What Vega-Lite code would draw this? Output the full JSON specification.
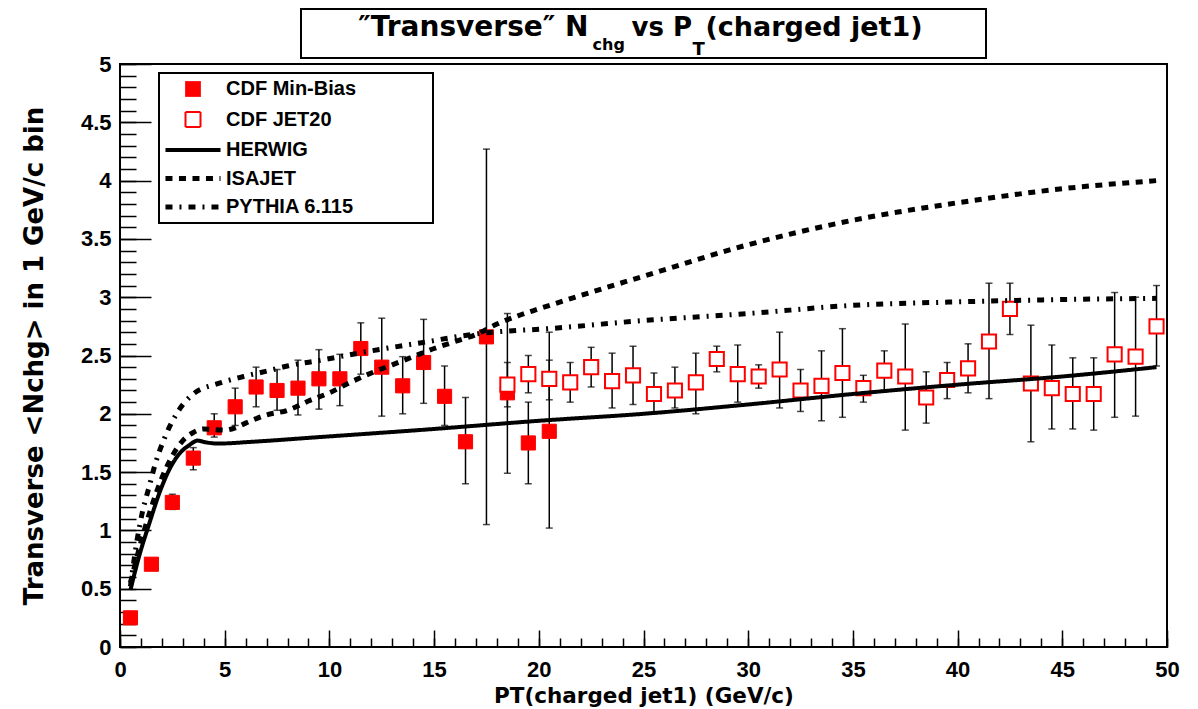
{
  "$schema": "https://vega.github.io/schema/vega-lite/v6.json",
  "background": "white",
  "padding": {"left": 20, "top": 8, "right": 4, "bottom": 0},
  "datasets": {
    "pts": [
      {"pt": 0.5, "n": 0.25, "lo": 0.25, "hi": 0.25, "series": "CDF Min-Bias"},
      {"pt": 1.5, "n": 0.71, "lo": 0.71, "hi": 0.71, "series": "CDF Min-Bias"},
      {"pt": 2.5, "n": 1.24, "lo": 1.18, "hi": 1.31, "series": "CDF Min-Bias"},
      {"pt": 3.5, "n": 1.62, "lo": 1.52, "hi": 1.71, "series": "CDF Min-Bias"},
      {"pt": 4.5, "n": 1.88, "lo": 1.80, "hi": 2.00, "series": "CDF Min-Bias"},
      {"pt": 5.5, "n": 2.06, "lo": 1.90, "hi": 2.22, "series": "CDF Min-Bias"},
      {"pt": 6.5, "n": 2.23, "lo": 2.06, "hi": 2.40, "series": "CDF Min-Bias"},
      {"pt": 7.5, "n": 2.20, "lo": 2.03, "hi": 2.38, "series": "CDF Min-Bias"},
      {"pt": 8.5, "n": 2.22, "lo": 1.99, "hi": 2.46, "series": "CDF Min-Bias"},
      {"pt": 9.5, "n": 2.30, "lo": 2.04, "hi": 2.55, "series": "CDF Min-Bias"},
      {"pt": 10.5, "n": 2.30, "lo": 2.07, "hi": 2.51, "series": "CDF Min-Bias"},
      {"pt": 11.5, "n": 2.56, "lo": 2.34, "hi": 2.78, "series": "CDF Min-Bias"},
      {"pt": 12.5, "n": 2.40, "lo": 1.98, "hi": 2.82, "series": "CDF Min-Bias"},
      {"pt": 13.5, "n": 2.24, "lo": 2.00, "hi": 2.49, "series": "CDF Min-Bias"},
      {"pt": 14.5, "n": 2.44, "lo": 2.09, "hi": 2.81, "series": "CDF Min-Bias"},
      {"pt": 15.5, "n": 2.15, "lo": 1.90, "hi": 2.41, "series": "CDF Min-Bias"},
      {"pt": 16.5, "n": 1.76, "lo": 1.40, "hi": 2.14, "series": "CDF Min-Bias"},
      {"pt": 17.5, "n": 2.66, "lo": 1.05, "hi": 4.27, "series": "CDF Min-Bias"},
      {"pt": 18.5, "n": 2.18, "lo": 1.49, "hi": 2.86, "series": "CDF Min-Bias"},
      {"pt": 19.5, "n": 1.75, "lo": 1.40, "hi": 2.10, "series": "CDF Min-Bias"},
      {"pt": 20.5, "n": 1.85, "lo": 1.02, "hi": 2.70, "series": "CDF Min-Bias"},
      {"pt": 18.5, "n": 2.25, "lo": 2.06, "hi": 2.44, "series": "CDF JET20"},
      {"pt": 19.5, "n": 2.34, "lo": 2.18, "hi": 2.50, "series": "CDF JET20"},
      {"pt": 20.5, "n": 2.30, "lo": 2.12, "hi": 2.46, "series": "CDF JET20"},
      {"pt": 21.5, "n": 2.27, "lo": 2.10, "hi": 2.44, "series": "CDF JET20"},
      {"pt": 22.5, "n": 2.40, "lo": 2.23, "hi": 2.57, "series": "CDF JET20"},
      {"pt": 23.5, "n": 2.28, "lo": 2.05, "hi": 2.52, "series": "CDF JET20"},
      {"pt": 24.5, "n": 2.33, "lo": 2.08, "hi": 2.58, "series": "CDF JET20"},
      {"pt": 25.5, "n": 2.17, "lo": 2.00, "hi": 2.35, "series": "CDF JET20"},
      {"pt": 26.5, "n": 2.20, "lo": 2.05, "hi": 2.40, "series": "CDF JET20"},
      {"pt": 27.5, "n": 2.27, "lo": 2.00, "hi": 2.52, "series": "CDF JET20"},
      {"pt": 28.5, "n": 2.47, "lo": 2.36, "hi": 2.58, "series": "CDF JET20"},
      {"pt": 29.5, "n": 2.34, "lo": 2.10, "hi": 2.59, "series": "CDF JET20"},
      {"pt": 30.5, "n": 2.32, "lo": 2.22, "hi": 2.42, "series": "CDF JET20"},
      {"pt": 31.5, "n": 2.38, "lo": 2.05, "hi": 2.70, "series": "CDF JET20"},
      {"pt": 32.5, "n": 2.20, "lo": 2.02, "hi": 2.38, "series": "CDF JET20"},
      {"pt": 33.5, "n": 2.24, "lo": 1.94, "hi": 2.54, "series": "CDF JET20"},
      {"pt": 34.5, "n": 2.35, "lo": 1.97, "hi": 2.73, "series": "CDF JET20"},
      {"pt": 35.5, "n": 2.22, "lo": 2.10, "hi": 2.33, "series": "CDF JET20"},
      {"pt": 36.5, "n": 2.37, "lo": 2.20, "hi": 2.54, "series": "CDF JET20"},
      {"pt": 37.5, "n": 2.32, "lo": 1.86, "hi": 2.77, "series": "CDF JET20"},
      {"pt": 38.5, "n": 2.14, "lo": 1.92, "hi": 2.36, "series": "CDF JET20"},
      {"pt": 39.5, "n": 2.29, "lo": 2.13, "hi": 2.44, "series": "CDF JET20"},
      {"pt": 40.5, "n": 2.39, "lo": 2.18, "hi": 2.60, "series": "CDF JET20"},
      {"pt": 41.5, "n": 2.62, "lo": 2.13, "hi": 3.12, "series": "CDF JET20"},
      {"pt": 42.5, "n": 2.90, "lo": 2.68, "hi": 3.12, "series": "CDF JET20"},
      {"pt": 43.5, "n": 2.26, "lo": 1.76, "hi": 2.76, "series": "CDF JET20"},
      {"pt": 44.5, "n": 2.22, "lo": 1.87, "hi": 2.59, "series": "CDF JET20"},
      {"pt": 45.5, "n": 2.17, "lo": 1.87, "hi": 2.48, "series": "CDF JET20"},
      {"pt": 46.5, "n": 2.17, "lo": 1.86, "hi": 2.48, "series": "CDF JET20"},
      {"pt": 47.5, "n": 2.51, "lo": 1.97, "hi": 3.04, "series": "CDF JET20"},
      {"pt": 48.5, "n": 2.49, "lo": 1.98, "hi": 3.00, "series": "CDF JET20"},
      {"pt": 49.5, "n": 2.75, "lo": 2.41, "hi": 3.10, "series": "CDF JET20"}
    ],
    "curves": [
      {"pt": 0.5, "val": 0.49, "series": "HERWIG"},
      {"pt": 0.9, "val": 0.77, "series": "HERWIG"},
      {"pt": 1.4, "val": 1.06, "series": "HERWIG"},
      {"pt": 1.9, "val": 1.33, "series": "HERWIG"},
      {"pt": 2.35, "val": 1.52, "series": "HERWIG"},
      {"pt": 2.8, "val": 1.65, "series": "HERWIG"},
      {"pt": 3.3, "val": 1.73, "series": "HERWIG"},
      {"pt": 3.7, "val": 1.77, "series": "HERWIG"},
      {"pt": 4.1, "val": 1.755, "series": "HERWIG"},
      {"pt": 4.7, "val": 1.745, "series": "HERWIG"},
      {"pt": 6.3, "val": 1.76, "series": "HERWIG"},
      {"pt": 9.5, "val": 1.80, "series": "HERWIG"},
      {"pt": 15, "val": 1.87, "series": "HERWIG"},
      {"pt": 20, "val": 1.94, "series": "HERWIG"},
      {"pt": 25, "val": 2.00, "series": "HERWIG"},
      {"pt": 30, "val": 2.08, "series": "HERWIG"},
      {"pt": 35, "val": 2.17, "series": "HERWIG"},
      {"pt": 40, "val": 2.25, "series": "HERWIG"},
      {"pt": 45, "val": 2.32, "series": "HERWIG"},
      {"pt": 49.5, "val": 2.40, "series": "HERWIG"},
      {"pt": 0.5, "val": 0.55, "series": "ISAJET"},
      {"pt": 1, "val": 0.9, "series": "ISAJET"},
      {"pt": 1.5, "val": 1.2, "series": "ISAJET"},
      {"pt": 2, "val": 1.45, "series": "ISAJET"},
      {"pt": 2.5, "val": 1.64, "series": "ISAJET"},
      {"pt": 3, "val": 1.77, "series": "ISAJET"},
      {"pt": 3.5, "val": 1.84, "series": "ISAJET"},
      {"pt": 4, "val": 1.87, "series": "ISAJET"},
      {"pt": 5, "val": 1.86, "series": "ISAJET"},
      {"pt": 5.5, "val": 1.88, "series": "ISAJET"},
      {"pt": 6, "val": 1.92, "series": "ISAJET"},
      {"pt": 7, "val": 1.99, "series": "ISAJET"},
      {"pt": 8, "val": 2.03, "series": "ISAJET"},
      {"pt": 9, "val": 2.11, "series": "ISAJET"},
      {"pt": 10, "val": 2.18, "series": "ISAJET"},
      {"pt": 11, "val": 2.27, "series": "ISAJET"},
      {"pt": 12, "val": 2.35, "series": "ISAJET"},
      {"pt": 13, "val": 2.42, "series": "ISAJET"},
      {"pt": 14, "val": 2.49, "series": "ISAJET"},
      {"pt": 15, "val": 2.56, "series": "ISAJET"},
      {"pt": 16, "val": 2.62, "series": "ISAJET"},
      {"pt": 17, "val": 2.68, "series": "ISAJET"},
      {"pt": 18, "val": 2.77, "series": "ISAJET"},
      {"pt": 19, "val": 2.84, "series": "ISAJET"},
      {"pt": 20, "val": 2.90, "series": "ISAJET"},
      {"pt": 25, "val": 3.18, "series": "ISAJET"},
      {"pt": 30, "val": 3.45, "series": "ISAJET"},
      {"pt": 35, "val": 3.66, "series": "ISAJET"},
      {"pt": 40, "val": 3.81, "series": "ISAJET"},
      {"pt": 45, "val": 3.93, "series": "ISAJET"},
      {"pt": 49.5, "val": 4.0, "series": "ISAJET"},
      {"pt": 0.5, "val": 0.52, "series": "PYTHIA 6.115"},
      {"pt": 0.8, "val": 0.9, "series": "PYTHIA 6.115"},
      {"pt": 1.05, "val": 1.14, "series": "PYTHIA 6.115"},
      {"pt": 1.4, "val": 1.38, "series": "PYTHIA 6.115"},
      {"pt": 1.7, "val": 1.58, "series": "PYTHIA 6.115"},
      {"pt": 2.1, "val": 1.78, "series": "PYTHIA 6.115"},
      {"pt": 2.7, "val": 2.0, "series": "PYTHIA 6.115"},
      {"pt": 3.5, "val": 2.17, "series": "PYTHIA 6.115"},
      {"pt": 4.7, "val": 2.26, "series": "PYTHIA 6.115"},
      {"pt": 5.9, "val": 2.32, "series": "PYTHIA 6.115"},
      {"pt": 7.1, "val": 2.37, "series": "PYTHIA 6.115"},
      {"pt": 8, "val": 2.41, "series": "PYTHIA 6.115"},
      {"pt": 9.6, "val": 2.46, "series": "PYTHIA 6.115"},
      {"pt": 12, "val": 2.54, "series": "PYTHIA 6.115"},
      {"pt": 14.4, "val": 2.61, "series": "PYTHIA 6.115"},
      {"pt": 16.8, "val": 2.68, "series": "PYTHIA 6.115"},
      {"pt": 18.5, "val": 2.71, "series": "PYTHIA 6.115"},
      {"pt": 20, "val": 2.725, "series": "PYTHIA 6.115"},
      {"pt": 25, "val": 2.80, "series": "PYTHIA 6.115"},
      {"pt": 30, "val": 2.86, "series": "PYTHIA 6.115"},
      {"pt": 35, "val": 2.93, "series": "PYTHIA 6.115"},
      {"pt": 40, "val": 2.96, "series": "PYTHIA 6.115"},
      {"pt": 45, "val": 2.98, "series": "PYTHIA 6.115"},
      {"pt": 49.5, "val": 2.99, "series": "PYTHIA 6.115"}
    ]
  },
  "vconcat": [
    {
      "width": 685,
      "height": 49,
      "view": {"stroke": "black", "strokeWidth": 2, "fill": "white"},
      "layer": [
        {
          "data": {"values": [{"t": "″Transverse″ N"}]},
          "mark": {"type": "text", "align": "right", "baseline": "alphabetic", "font": "DejaVu Sans", "fontWeight": "bold", "fontSize": 28, "fill": "black", "dx": -55, "dy": 2.5},
          "encoding": {"text": {"field": "t"}}
        },
        {
          "data": {"values": [{"t": "chg"}]},
          "mark": {"type": "text", "align": "left", "baseline": "alphabetic", "font": "DejaVu Sans", "fontWeight": "bold", "fontSize": 16, "fill": "black", "dx": -51, "dy": 16.5},
          "encoding": {"text": {"field": "t"}}
        },
        {
          "data": {"values": [{"t": "vs P"}]},
          "mark": {"type": "text", "align": "left", "baseline": "alphabetic", "font": "DejaVu Sans", "fontWeight": "bold", "fontSize": 26, "fill": "black", "dx": -12, "dy": 2.5},
          "encoding": {"text": {"field": "t"}}
        },
        {
          "data": {"values": [{"t": "T"}]},
          "mark": {"type": "text", "align": "left", "baseline": "alphabetic", "font": "DejaVu Sans", "fontWeight": "bold", "fontSize": 18, "fill": "black", "dx": 49, "dy": 21},
          "encoding": {"text": {"field": "t"}}
        },
        {
          "data": {"values": [{"t": "(charged jet1)"}]},
          "mark": {"type": "text", "align": "left", "baseline": "alphabetic", "font": "DejaVu Sans", "fontWeight": "bold", "fontSize": 27, "fill": "black", "dx": 62, "dy": 2.5},
          "encoding": {"text": {"field": "t"}}
        }
      ]
    },
    {
      "width": 1047,
      "height": 583,
      "layer": [
        {
          "data": {"name": "pts"},
          "mark": {"type": "errorbar", "ticks": true, "thickness": 1.5, "size": 7, "color": "black"},
          "encoding": {
            "x": {"field": "pt", "type": "quantitative", "scale": {"domain": [0, 50], "nice": false}, "axis": null},
            "y": {"field": "lo", "type": "quantitative", "scale": {"domain": [0, 5], "nice": false, "zero": false}, "axis": null},
            "y2": {"field": "hi"}
          }
        },
        {
          "data": {"name": "pts"},
          "mark": {"type": "point", "filled": true, "opacity": 1, "size": 200},
          "encoding": {
            "x": {"field": "pt", "type": "quantitative", "scale": {"domain": [0, 50], "nice": false},
              "axis": {"orient": "bottom", "values": [0, 5, 10, 15, 20, 25, 30, 35, 40, 45, 50], "format": "~g", "tickSize": -17, "tickWidth": 1.5, "labelPadding": 29, "labelFontSize": 22, "labelFlush": false, "labelOverlap": false, "title": "PT(charged jet1) (GeV/c)", "titleFont": "DejaVu Sans", "titleFontSize": 21.5, "titlePadding": 5}},
            "y": {"field": "n", "type": "quantitative", "scale": {"domain": [0, 5], "nice": false, "zero": false},
              "axis": {"orient": "left", "values": [0, 0.5, 1, 1.5, 2, 2.5, 3, 3.5, 4, 4.5, 5], "format": "~g", "tickSize": -31, "tickWidth": 1.5, "labelPadding": 40, "labelFontSize": 22, "labelFlush": false, "labelOverlap": false, "title": "Transverse <Nchg> in 1 GeV/c bin", "titleFont": "DejaVu Sans", "titleFontSize": 26, "titlePadding": 33}},
            "shape": {"field": "series", "type": "nominal", "title": null,
              "scale": {"domain": ["CDF Min-Bias", "CDF JET20", "HERWIG", "ISAJET", "PYTHIA 6.115"], "range": ["square", "square", "M-3.67,0H3.67", "M-3.67,0H3.67", "M-3.67,0H3.67"]},
              "legend": {"title": "\u00a0", "titleOrient": "right", "titlePadding": 71}},
            "fill": {"field": "series", "type": "nominal", "title": null,
              "scale": {"domain": ["CDF Min-Bias", "CDF JET20", "HERWIG", "ISAJET", "PYTHIA 6.115"], "range": ["#ff0000", "#ffffff", "#000000", "#000000", "#000000"]},
              "legend": {"title": "\u00a0", "titleOrient": "right", "titlePadding": 71}},
            "stroke": {"field": "series", "type": "nominal", "title": null,
              "scale": {"domain": ["CDF Min-Bias", "CDF JET20", "HERWIG", "ISAJET", "PYTHIA 6.115"], "range": ["#ff0000", "#ff0000", "#000000", "#000000", "#000000"]},
              "legend": {"title": "\u00a0", "titleOrient": "right", "titlePadding": 71}},
            "strokeWidth": {"field": "series", "type": "nominal", "title": null,
              "scale": {"type": "ordinal", "domain": ["CDF Min-Bias", "CDF JET20", "HERWIG", "ISAJET", "PYTHIA 6.115"], "range": [1, 2, 4, 5, 5]},
              "legend": {"title": "\u00a0", "titleOrient": "right", "titlePadding": 71}}
          }
        },
        {
          "data": {"name": "curves"},
          "mark": {"type": "line", "interpolate": "monotone", "strokeCap": "butt"},
          "encoding": {
            "x": {"field": "pt", "type": "quantitative", "scale": {"domain": [0, 50], "nice": false},
              "axis": {"orient": "bottom", "values": [0, 1, 2, 3, 4, 5, 6, 7, 8, 9, 10, 11, 12, 13, 14, 15, 16, 17, 18, 19, 20, 21, 22, 23, 24, 25, 26, 27, 28, 29, 30, 31, 32, 33, 34, 35, 36, 37, 38, 39, 40, 41, 42, 43, 44, 45, 46, 47, 48, 49, 50], "tickSize": -9, "tickWidth": 1.5, "labels": false, "title": null}},
            "y": {"field": "val", "type": "quantitative", "scale": {"domain": [0, 5], "nice": false, "zero": false},
              "axis": {"orient": "left", "values": [0, 0.1, 0.2, 0.3, 0.4, 0.5, 0.6, 0.7, 0.8, 0.9, 1, 1.1, 1.2, 1.3, 1.4, 1.5, 1.6, 1.7, 1.8, 1.9, 2, 2.1, 2.2, 2.3, 2.4, 2.5, 2.6, 2.7, 2.8, 2.9, 3, 3.1, 3.2, 3.3, 3.4, 3.5, 3.6, 3.7, 3.8, 3.9, 4, 4.1, 4.2, 4.3, 4.4, 4.5, 4.6, 4.7, 4.8, 4.9, 5], "tickSize": -16, "tickWidth": 1.5, "labels": false, "title": null}},
            "stroke": {"field": "series", "type": "nominal", "title": null,
              "scale": {"domain": ["CDF Min-Bias", "CDF JET20", "HERWIG", "ISAJET", "PYTHIA 6.115"], "range": ["#ff0000", "#ff0000", "#000000", "#000000", "#000000"]},
              "legend": {"title": "\u00a0", "titleOrient": "right", "titlePadding": 71}},
            "strokeWidth": {"field": "series", "type": "nominal", "title": null,
              "scale": {"type": "ordinal", "domain": ["CDF Min-Bias", "CDF JET20", "HERWIG", "ISAJET", "PYTHIA 6.115"], "range": [1, 2, 4, 5, 5]},
              "legend": {"title": "\u00a0", "titleOrient": "right", "titlePadding": 71}},
            "strokeDash": {"field": "series", "type": "nominal", "title": null,
              "scale": {"domain": ["CDF Min-Bias", "CDF JET20", "HERWIG", "ISAJET", "PYTHIA 6.115"], "range": [[1, 0], [1, 0], [1, 0], [7, 6.5], [7, 7, 2, 7]]},
              "legend": {"title": "\u00a0", "titleOrient": "right", "titlePadding": 71}}
          }
        }
      ],
      "resolve": {"axis": {"x": "independent", "y": "independent"}}
    }
  ],
  "spacing": 6,
  "bounds": "flush",
  "center": true,
  "config": {
    "view": {"stroke": "black", "strokeWidth": 2},
    "font": "Liberation Sans",
    "axis": {"labelFont": "Liberation Sans", "labelFontWeight": "bold", "labelColor": "black", "titleFont": "DejaVu Sans", "titleFontWeight": "bold", "titleColor": "black", "tickColor": "black", "grid": false, "domain": false},
    "legend": {"orient": "none", "legendX": 39, "legendY": 64, "strokeColor": "black", "strokeWidth": 2, "fillColor": "white", "padding": 6, "labelFont": "Liberation Sans", "labelFontWeight": "bold", "labelFontSize": 20, "labelColor": "black", "labelOffset": 23, "rowPadding": 8.5, "symbolSize": 225, "symbolOpacity": 1, "symbolOffset": 18, "cornerRadius": 0}
  }
}
